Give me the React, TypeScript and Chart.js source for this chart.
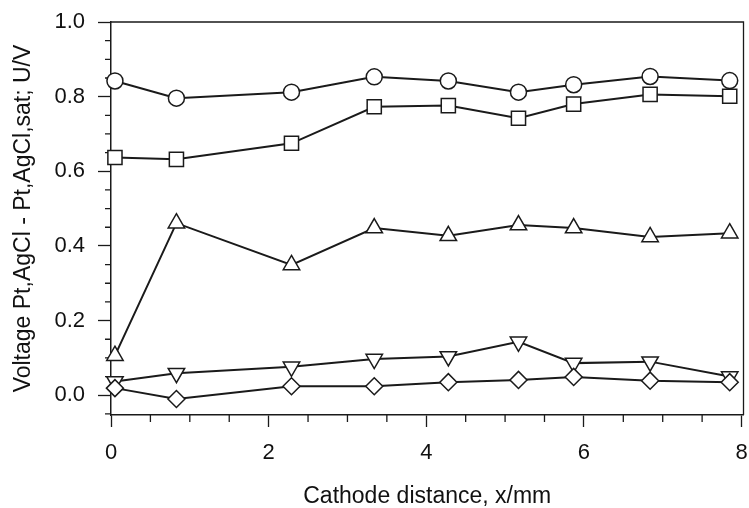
import { useEffect, useRef } from "react";
import { Chart, registerables } from "chart.js";

Chart.register(...registerables);

// Cathode distance, x/mm
const xPositions = [0.05, 0.83, 2.29, 3.34, 4.28, 5.17, 5.87, 6.84, 7.85];

// Voltage series (U/V)
const circleSeries = [0.842, 0.796, 0.812, 0.853, 0.842, 0.812, 0.832, 0.854, 0.843];
const squareSeries = [0.637, 0.632, 0.675, 0.773, 0.776, 0.742, 0.780, 0.806, 0.801];
const triangleUpSeries = [0.106, 0.461, 0.349, 0.448, 0.427, 0.456, 0.448, 0.424, 0.434];
const triangleDownSeries = [0.037, 0.059, 0.076, 0.097, 0.104, 0.143, 0.086, 0.090, 0.050];
const diamondSeries = [0.019, -0.010, 0.024, 0.024, 0.035, 0.041, 0.049, 0.039, 0.035];

// Axis ticks
const xTickValues = [0, 2, 4, 6, 8];
const yTickValues = [0, 0.2, 0.4, 0.6, 0.8, 1.0];
const xMinorTicks = [0.5, 1, 1.5, 2.5, 3, 3.5, 4.5, 5, 5.5, 6.5, 7, 7.5];
const yMinorTicks = [-0.05, 0.05, 0.1, 0.15, 0.25, 0.3, 0.35, 0.45, 0.5, 0.55, 0.65, 0.7, 0.75, 0.85, 0.9, 0.95];

const xTitle = "Cathode distance, x/mm";
const yTitle = "Voltage Pt,AgCl - Pt,AgCl,sat; U/V";

const INK = "#1a1a1a";
const FONT = "'Liberation Sans', Arial, Helvetica, sans-serif";

const toPoints = (ys: number[]) => xPositions.map((x, i) => ({ x, y: ys[i] }));

const framePlugin = {
  id: "frameAndMinorTicks",
  beforeDatasetsDraw(chart: any) {
    const { ctx, chartArea: a, scales } = chart;
    ctx.save();
    ctx.strokeStyle = INK;
    ctx.lineWidth = 1.3;
    ctx.beginPath();
    ctx.moveTo(a.left, a.top);
    ctx.lineTo(a.right, a.top);
    ctx.lineTo(a.right, a.bottom);
    ctx.stroke();
    ctx.beginPath();
    yMinorTicks.forEach((v) => {
      const y = scales.y.getPixelForValue(v);
      ctx.moveTo(a.left - 6, y);
      ctx.lineTo(a.left, y);
    });
    xMinorTicks.forEach((v) => {
      const x = scales.x.getPixelForValue(v);
      ctx.moveTo(x, a.bottom);
      ctx.lineTo(x, a.bottom + 7);
    });
    ctx.stroke();
    ctx.restore();
  },
};

function makeDataset(data: number[], pointStyle: string, radius: number, rotation = 0) {
  return {
    data: toPoints(data),
    showLine: true,
    borderColor: INK,
    borderWidth: 2,
    pointStyle,
    pointRadius: radius,
    pointRotation: rotation,
    pointBackgroundColor: "#ffffff",
    pointBorderColor: INK,
    pointBorderWidth: 1.5,
    clip: false as any,
  };
}

const zeroPadding = (scale: any) => {
  scale.paddingTop = 0;
  scale.paddingBottom = 0;
  scale.paddingLeft = 0;
  scale.paddingRight = 0;
};

export default function App() {
  const canvasRef = useRef<HTMLCanvasElement | null>(null);

  useEffect(() => {
    if (!canvasRef.current) return;
    const chart = new Chart(canvasRef.current, {
      type: "scatter",
      data: {
        datasets: [
          makeDataset(diamondSeries, "rectRot", 8.5),
          makeDataset(triangleDownSeries, "triangle", 9.5, 180),
          makeDataset(triangleUpSeries, "triangle", 9.5),
          makeDataset(squareSeries, "rect", 10),
          makeDataset(circleSeries, "circle", 8),
        ] as any,
      },
      options: {
        animation: false,
        responsive: false,
        devicePixelRatio: 1,
        layout: { padding: { left: 0, top: 22, right: 0.5, bottom: 0 } },
        plugins: { legend: { display: false }, tooltip: { enabled: false } },
        scales: {
          x: {
            type: "linear",
            min: 0,
            max: 8.025,
            afterBuildTicks: (scale: any) => {
              scale.ticks = xTickValues.map((v) => ({ value: v }));
            },
            afterFit: (scale: any) => {
              scale.height = 93;
              zeroPadding(scale);
            },
            grid: {
              drawOnChartArea: false,
              drawTicks: true,
              tickLength: 12,
              tickColor: INK,
              tickWidth: 1.3,
            },
            border: { display: true, color: INK, width: 1.5 },
            ticks: {
              color: "#111",
              font: { family: FONT, size: 22 },
              padding: 13,
              maxRotation: 0,
              callback: (v: any) => String(v),
            },
            title: {
              display: true,
              text: xTitle,
              color: "#111",
              font: { family: FONT, size: 23, lineHeight: 1 },
              padding: { top: 0, bottom: 0 },
            },
          },
          y: {
            type: "linear",
            min: -0.053,
            max: 1.0,
            afterBuildTicks: (scale: any) => {
              scale.ticks = yTickValues.map((v) => ({ value: v }));
            },
            afterFit: (scale: any) => {
              scale.width = 111;
              zeroPadding(scale);
            },
            grid: {
              drawOnChartArea: false,
              drawTicks: true,
              tickLength: 13,
              tickColor: INK,
              tickWidth: 1.3,
            },
            border: { display: true, color: INK, width: 1.5 },
            ticks: {
              color: "#111",
              font: { family: FONT, size: 22 },
              padding: 13,
              callback: (v: any) => Number(v).toFixed(1),
            },
            title: {
              display: true,
              text: yTitle,
              color: "#111",
              font: { family: FONT, size: 23, lineHeight: 1 },
              padding: { top: 12, bottom: 0 },
            },
          },
        },
      },
      plugins: [framePlugin],
    });
    return () => chart.destroy();
  }, []);

  return (
    <div
      style={{
        position: "absolute",
        left: 0,
        top: 0,
        width: 749,
        height: 508,
        overflow: "hidden",
        background: "#fff",
      }}
    >
      <canvas ref={canvasRef} width={755} height={508} style={{ display: "block" }} />
    </div>
  );
}
